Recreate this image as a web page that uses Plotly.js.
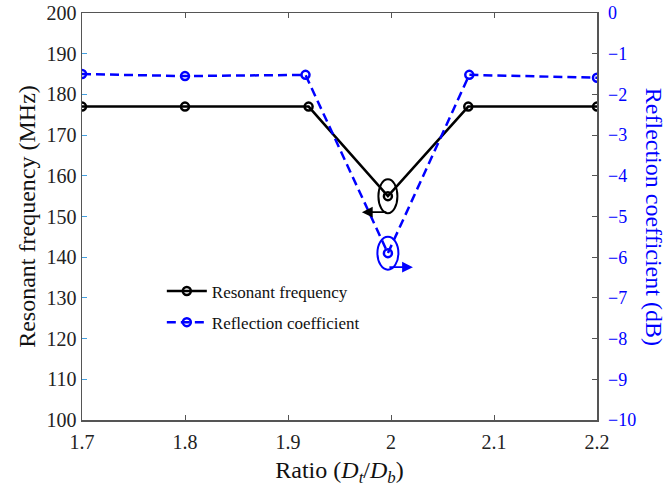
<!DOCTYPE html>
<html>
<head>
<meta charset="utf-8">
<script src="https://cdn.plot.ly/plotly-3.0.1.min.js"></script>
<style>html,body{margin:0;padding:0;background:#fff;}#chart{width:672px;height:487px;}</style>
</head>
<body>
<div id="chart"></div>
<script>
// Data
const ratioFreq = [1.7, 1.8, 1.92, 1.997, 2.075, 2.2];
const resonantFreq = [177, 177, 177, 155, 177, 177];
const ratioRefl = [1.7, 1.8, 1.917, 1.997, 2.076, 2.2];
const reflCoeff = [-1.5, -1.55, -1.52, -5.9, -1.52, -1.59];
const xTicks = [1.7, 1.8, 1.9, 2, 2.1, 2.2];
const xTickText = ['1.7', '1.8', '1.9', '2', '2.1', '2.2'];

const FONT = 'Liberation Serif, Times New Roman, serif';
const BLUE = 'rgb(0,0,255)';
const minIdx = resonantFreq.indexOf(Math.min(...resonantFreq));
const minIdx2 = reflCoeff.indexOf(Math.min(...reflCoeff));

const traces = [
  {
    x: ratioFreq, y: resonantFreq, name: 'Resonant frequency',
    type: 'scatter', mode: 'lines+markers', legendgroup: 'a',
    line: {color: '#000', width: 2.5},
    marker: {symbol: 'circle-open', size: 8, color: '#000', line: {width: 2.5, color: '#000'}}
  },
  {
    x: ratioRefl, y: reflCoeff, name: 'Reflection coefficient', yaxis: 'y2',
    type: 'scatter', mode: 'lines+markers', legendgroup: 'b',
    line: {color: BLUE, width: 2.5, dash: '9px,5px'},
    marker: {symbol: 'circle-open', size: 8, color: BLUE, line: {width: 2.5, color: BLUE}}
  }
];

const layout = {
  width: 672, height: 487,
  margin: {l: 82, r: 75, t: 13, b: 67},
  paper_bgcolor: '#fff', plot_bgcolor: '#fff',
  font: {family: FONT, size: 20, color: '#222'},
  showlegend: true,
  legend: {
    x: 0.155, y: 0.36, xanchor: 'left', yanchor: 'top',
    bgcolor: 'rgba(0,0,0,0)', font: {family: FONT, size: 17, color: '#111'},
    traceorder: 'grouped', tracegroupgap: 6, itemwidth: 40
  },
  xaxis: {
    range: [1.7, 2.2], tickvals: xTicks, ticktext: xTickText,
    showgrid: false, zeroline: false, showline: true, linecolor: '#555', linewidth: 1.5,
    mirror: 'ticks', ticks: 'inside', ticklen: 5, tickcolor: '#555', tickwidth: 1,
    ticklabelstandoff: 3,
    tickfont: {family: FONT, size: 20, color: '#222'},
    title: {text: 'Ratio (<i>D<sub>t</sub></i>/<i>D<sub>b</sub></i>)', font: {family: FONT, size: 24, color: '#111'}, standoff: 9}
  },
  yaxis: {
    range: [100, 200], dtick: 10,
    showgrid: false, zeroline: false, showline: true, linecolor: '#555', linewidth: 1.5,
    mirror: true, ticks: 'inside', ticklen: 5, tickcolor: '#44a0e0', tickwidth: 1,
    tickfont: {family: FONT, size: 20, color: '#222'},
    title: {text: 'Resonant frequency (MHz)', font: {family: FONT, size: 24, color: '#111'}, standoff: 4}
  },
  yaxis2: {
    range: [-10, 0], dtick: 1, overlaying: 'y', side: 'right',
    showgrid: false, zeroline: false, showline: true, linecolor: '#555', linewidth: 1.5,
    ticks: 'inside', ticklen: 5, tickcolor: '#555', tickwidth: 1,
    ticklabelstandoff: 6,
    tickfont: {family: FONT, size: 18, color: BLUE}
  },
  shapes: [
    {type: 'circle', xref: 'x', yref: 'y', xsizemode: 'pixel', ysizemode: 'pixel',
     xanchor: ratioFreq[minIdx], yanchor: resonantFreq[minIdx],
     x0: -9.5, x1: 9.5, y0: -17, y1: 17, line: {color: '#000', width: 2}},
    {type: 'circle', xref: 'x', yref: 'y2', xsizemode: 'pixel', ysizemode: 'pixel',
     xanchor: ratioRefl[minIdx2], yanchor: reflCoeff[minIdx2],
     x0: -10.5, x1: 10.5, y0: -16.5, y1: 16.5, line: {color: BLUE, width: 2}}
  ],
  annotations: [
    {x: ratioFreq[minIdx], y: resonantFreq[minIdx], xref: 'x', yref: 'y', text: '',
     showarrow: true, arrowhead: 2, arrowsize: 1.2, arrowwidth: 1.8, arrowcolor: '#000',
     ax: 26, ay: 0, xshift: -26, yshift: -16},
    {x: ratioRefl[minIdx2], y: reflCoeff[minIdx2], xref: 'x', yref: 'y2', text: '',
     showarrow: true, arrowhead: 2, arrowsize: 1.2, arrowwidth: 1.8, arrowcolor: BLUE,
     ax: -25, ay: 0, xshift: 25, yshift: -14},
    {text: 'Reflection coefficient (dB)', xref: 'paper', yref: 'paper', x: 1.112, y: 0.5,
     xanchor: 'center', yanchor: 'middle', textangle: 90, showarrow: false,
     font: {family: FONT, size: 24, color: BLUE}}
  ]
};

Plotly.newPlot('chart', traces, layout, {displayModeBar: false, staticPlot: true});
</script>
</body>
</html>
